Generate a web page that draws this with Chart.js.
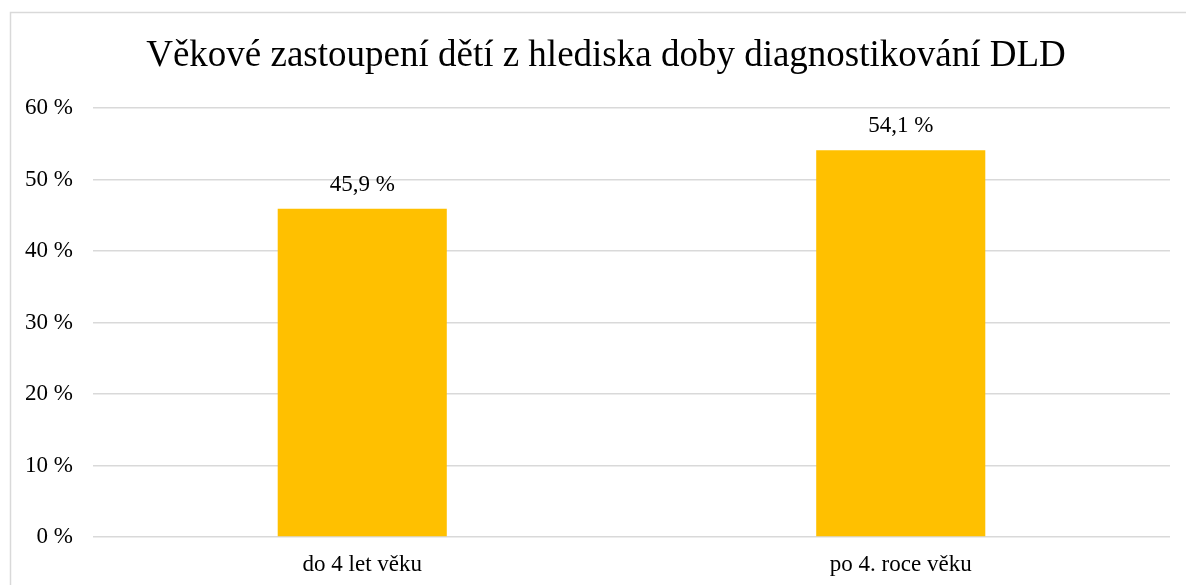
<!DOCTYPE html>
<html>
<head>
<meta charset="utf-8">
<script src="https://cdn.jsdelivr.net/npm/chart.js@4"></script>
<style>
  html, body { margin: 0; padding: 0; background: #fff; }
  #wrap { width: 1186px; height: 585px; }
</style>
</head>
<body>
<div id="wrap"><canvas id="graf"></canvas></div>
<script>
const kategorie = ['do 4 let věku', 'po 4. roce věku'];
const hodnoty = [45.9, 54.1];
const titulek = 'Věkové zastoupení dětí z hlediska doby diagnostikování DLD';

const pismo = '"Liberation Serif", "Times New Roman", serif';

// ramecek kolem grafu (jen levy a horni okraj je videt)
const ramecek = {
    id: 'ramecek',
    beforeDraw(chart) {
        const c = chart.ctx;
        c.save();
        c.strokeStyle = '#d9d9d9';
        c.lineWidth = 1.5;
        c.strokeRect(10.5, 12.5, 1400, 800);
        c.restore();
    }
};

// nadpis - puvodni graf je sirsi nez vyrez, proto stred vpravo od stredu platna
const nadpis = {
    id: 'nadpis',
    afterDraw(chart) {
        const c = chart.ctx;
        c.save();
        c.font = '37px ' + pismo;
        c.fillStyle = '#000';
        c.textAlign = 'center';
        c.textBaseline = 'middle';
        c.fillText(titulek, 606, 56);
        c.restore();
    }
};

// popisky hodnot nad sloupci
const popisky = {
    id: 'popisky',
    afterDatasetsDraw(chart) {
        const c = chart.ctx;
        const meta = chart.getDatasetMeta(0);
        c.save();
        c.font = '23px ' + pismo;
        c.fillStyle = '#000';
        c.textAlign = 'center';
        c.textBaseline = 'middle';
        meta.data.forEach((bar, i) => {
            const v = chart.data.datasets[0].data[i];
            c.fillText(v.toFixed(1).replace('.', ',') + ' %', bar.x, bar.y - 24);
        });
        c.restore();
    }
};

const ctx = document.getElementById('graf').getContext('2d');

const graf = new Chart(ctx, {
    type: 'bar',
    data: {
        labels: kategorie,
        datasets: [{
            data: hodnoty,
            backgroundColor: '#FFC000',
            borderWidth: 0,
            barPercentage: 0.314,
            categoryPercentage: 1
        }]
    },
    options: {
        responsive: true,
        maintainAspectRatio: false,
        animation: false,
        layout: {
            padding: { left: 10, top: 108, right: 16, bottom: 0 }
        },
        plugins: {
            legend: { display: false },
            tooltip: { enabled: false },
            title: { display: false }
        },
        scales: {
            y: {
                min: 0,
                max: 60,
                ticks: {
                    stepSize: 10,
                    color: '#000',
                    padding: 20,
                    font: { family: pismo, size: 23 },
                    callback: v => v + ' %'
                },
                grid: { color: '#d9d9d9', lineWidth: 1.5, drawTicks: false },
                border: { display: false },
                afterFit: s => { s.width = 83; }
            },
            x: {
                ticks: {
                    color: '#000',
                    padding: 14,
                    font: { family: pismo, size: 23 }
                },
                grid: { display: false, drawTicks: false },
                border: { display: false },
                afterFit: s => { s.height = 48; }
            }
        }
    },
    plugins: [ramecek, nadpis, popisky]
});
</script>
</body>
</html>
